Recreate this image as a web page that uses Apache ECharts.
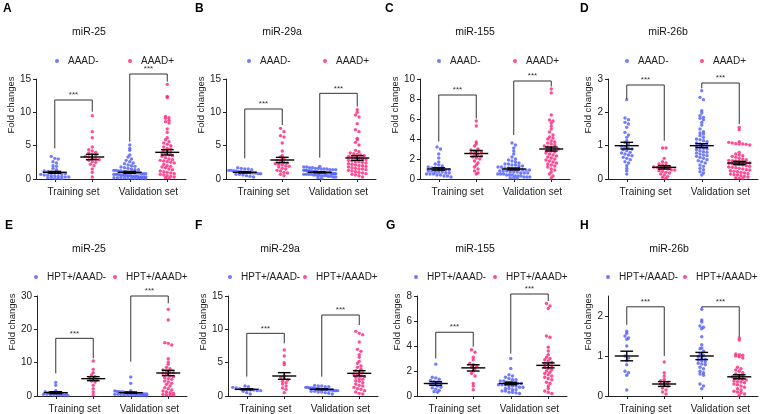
<!DOCTYPE html>
<html><head><meta charset="utf-8">
<script src="https://cdn.jsdelivr.net/npm/echarts@6/dist/echarts.min.js"></script>
<style>html,body{margin:0;padding:0;background:#fff}#c{width:760px;height:414px}</style>
</head><body><div id="c"></div>
<script>
// ---------------- DATA ----------------
const categories = ['Training set', 'Validation set'];
const panelLetters = ['A','B','C','D','E','F','G','H'];
const panelTitles = ['miR-25','miR-29a','miR-155','miR-26b','miR-25','miR-29a','miR-155','miR-26b'];
const groupNamesTop = ['AAAD-','AAAD+'];
const groupNamesBottom = ['HPT+/AAAD-','HPT+/AAAD+'];
const yMax = [15,15,10,3,30,15,8,2.5];
const yTicks = [[0,5,10,15],[0,5,10,15],[0,2,4,6,8,10],[0,1,2,3],[0,10,20,30],[0,5,10,15],[0,2,4,6,8],[0,1,2]];

// Panel A  miR-25 (AAAD- / AAAD+)
const aTrainNeg = [3.4,3.1,3.0,2.6,2.4,2.0,1.9,1.6,1.4,1.2,1.1,1.0,1.0,0.9,0.8,0.8,0.7,0.6,0.6,0.5,0.5,0.4,0.4,0.3,0.3,0.2,0.2,0.1,0.1,0.05];
const aTrainPos = [9.5,7.1,6.2,4.8,4.4,4.2,4.0,3.9,3.7,3.6,3.4,3.3,3.1,3.0,2.9,2.8,2.6,2.5,2.2,2.0,1.5,1.0,0.3];
const aValNeg = [5.1,4.6,4.3,3.6,3.3,3.0,2.8,2.6,2.4,2.3,2.1,2.0,1.9,1.8,1.7,1.6,1.5,1.4,1.4,1.3,1.3,1.2,1.2,1.1,1.1,1.0,1.0,1.0,0.9,0.9,0.9,0.8,0.8,0.8,0.7,0.7,0.7,0.6,0.6,0.6,0.5,0.5,0.5,0.4,0.4,0.4,0.3,0.3,0.3,0.3,0.2,0.2,0.2,0.2,0.1,0.1,0.1,0.1,0.05,0.05];
const aValPos = [14.2,12.4,12.2,9.4,9.2,9.1,8.8,8.6,8.4,7.5,7.0,6.2,5.9,5.6,5.4,5.2,5.0,4.8,4.6,4.5,4.3,4.2,4.0,3.9,3.8,3.6,3.5,3.4,3.2,3.0,2.9,2.8,2.7,2.6,2.5,2.4,2.2,2.0,1.9,1.8,1.7,1.5,1.4,1.2,1.1,1.0,0.9,0.8,0.7,0.6,0.5,0.4,0.3,0.2,0.1];
// Panel B  miR-29a
const bTrainNeg = [1.7,1.6,1.5,1.5,1.4,1.3,1.3,1.2,1.2,1.1,1.1,1.0,1.0,1.0,0.9,0.9,0.9,0.8,0.8,0.7,0.7,0.6,0.5,0.4,0.3];
const bTrainPos = [7.6,7.1,6.5,6.3,5.4,4.2,3.5,3.3,3.0,2.8,2.6,2.5,2.4,2.3,2.2,2.1,2.0,1.9,1.8,1.6,1.5,1.3,1.2,1.0,0.9,0.7,0.5];
const bValNeg = [1.9,1.8,1.8,1.7,1.7,1.6,1.6,1.5,1.5,1.5,1.4,1.4,1.4,1.3,1.3,1.3,1.2,1.2,1.2,1.2,1.1,1.1,1.1,1.1,1.0,1.0,1.0,1.0,1.0,0.9,0.9,0.9,0.9,0.9,0.8,0.8,0.8,0.8,0.7,0.7,0.7,0.7,0.6,0.6,0.6,0.5,0.5,0.5,0.4,0.4,0.3,0.3,0.2,0.1];
const bValPos = [10.4,10.0,9.6,9.3,8.3,7.4,7.1,6.1,5.9,5.5,5.1,4.3,4.1,3.9,3.8,3.7,3.6,3.5,3.4,3.3,3.2,3.1,3.0,2.9,2.8,2.7,2.6,2.6,2.5,2.4,2.3,2.2,2.1,2.0,2.0,1.9,1.8,1.7,1.6,1.5,1.5,1.4,1.3,1.2,1.1,1.0,0.9,0.8,0.7,0.6,0.5,0.3];
// Panel C  miR-155
const cTrainNeg = [3.2,3.0,2.5,2.1,1.7,1.5,1.4,1.3,1.2,1.1,1.1,1.0,1.0,0.9,0.9,0.8,0.8,0.7,0.7,0.7,0.6,0.6,0.5,0.5,0.5,0.4,0.4,0.3,0.3,0.2];
const cTrainPos = [5.8,5.3,3.7,3.5,3.3,3.0,2.9,2.8,2.8,2.7,2.6,2.5,2.4,2.3,2.2,2.1,2.0,1.8,1.6,1.4,1.2,1.0,0.8,0.6,0.5];
const cValNeg = [3.6,3.4,3.1,2.8,2.5,2.2,2.0,1.9,1.8,1.7,1.6,1.5,1.5,1.4,1.4,1.3,1.3,1.2,1.2,1.1,1.1,1.0,1.0,1.0,0.9,0.9,0.9,0.8,0.8,0.8,0.7,0.7,0.7,0.6,0.6,0.6,0.5,0.5,0.5,0.4,0.4,0.4,0.3,0.3,0.3,0.2,0.2,0.2,0.1,0.1,0.05];
const cValPos = [9.0,8.6,6.4,5.9,5.8,5.6,5.3,5.0,4.7,4.4,4.2,4.1,4.0,3.8,3.7,3.6,3.5,3.4,3.3,3.2,3.1,3.0,3.0,2.9,2.8,2.7,2.6,2.5,2.4,2.3,2.2,2.1,2.0,1.9,1.8,1.7,1.6,1.5,1.4,1.3,1.2,1.0,0.9,0.7,0.5,0.3,0.1];
// Panel D  miR-26b
const dTrainNeg = [2.38,1.83,1.78,1.70,1.65,1.55,1.40,1.32,1.25,1.15,1.10,1.05,0.98,0.95,0.92,0.90,0.88,0.85,0.80,0.78,0.75,0.72,0.70,0.65,0.62,0.58,0.52,0.48,0.40,0.32,0.25,0.15];
const dTrainPos = [0.93,0.93,0.62,0.52,0.48,0.45,0.42,0.40,0.38,0.36,0.35,0.33,0.32,0.30,0.28,0.27,0.25,0.23,0.20,0.18,0.15,0.12,0.08,0.05,0.02];
const dValNeg = [2.65,2.45,2.38,2.05,1.98,1.90,1.85,1.82,1.78,1.70,1.62,1.50,1.42,1.38,1.35,1.30,1.25,1.20,1.18,1.15,1.12,1.08,1.05,1.02,1.00,0.98,0.95,0.92,0.90,0.88,0.85,0.82,0.80,0.78,0.75,0.72,0.70,0.68,0.65,0.62,0.58,0.55,0.52,0.48,0.42,0.38,0.32,0.28,0.22,0.18,0.12];
const dValPos = [1.55,1.48,1.12,1.10,1.08,1.06,1.05,1.05,1.04,1.02,0.80,0.75,0.72,0.70,0.68,0.65,0.62,0.60,0.58,0.56,0.55,0.54,0.52,0.50,0.50,0.48,0.47,0.46,0.45,0.44,0.42,0.40,0.38,0.36,0.35,0.34,0.32,0.30,0.28,0.27,0.25,0.23,0.22,0.20,0.18,0.16,0.15,0.13,0.12,0.10,0.08,0.06,0.04,0.02,0.01];
// Panel E  miR-25 (HPT+)
const eTrainNeg = [4.1,3.2,1.6,1.3,1.1,1.0,0.9,0.8,0.7,0.6,0.5,0.5,0.4,0.3,0.3,0.2,0.1,0.1];
const eTrainPos = [10.5,8.0,7.0,6.3,5.8,5.3,5.0,4.8,4.5,4.2,3.2,2.2,1.2,0.3];
const eValNeg = [5.7,3.8,1.6,1.5,1.4,1.3,1.2,1.2,1.1,1.0,1.0,0.9,0.9,0.8,0.8,0.7,0.7,0.6,0.6,0.5,0.5,0.4,0.4,0.3,0.3,0.2,0.2,0.1,0.1,0.05];
const eValPos = [26.0,22.8,16.0,15.8,15.3,11.2,10.2,9.5,8.6,8.2,7.8,7.5,7.2,7.0,6.8,6.5,6.0,5.8,5.5,5.2,5.0,4.5,4.2,3.8,3.5,3.0,2.5,2.2,1.8,1.5,1.2,1.0,0.8,0.5,0.4,0.3,0.2];
// Panel F  miR-29a (HPT+)
const fTrainNeg = [1.5,1.4,1.3,1.2,1.1,1.0,1.0,0.9,0.9,0.8,0.8,0.7,0.5,0.3];
const fTrainPos = [6.9,6.0,5.0,4.7,3.0,2.8,2.6,2.4,2.2,2.0,1.8,1.5,1.2,1.0,0.5];
const fValNeg = [1.6,1.5,1.5,1.4,1.4,1.3,1.3,1.2,1.2,1.2,1.1,1.1,1.1,1.0,1.0,1.0,1.0,0.9,0.9,0.9,0.8,0.8,0.8,0.7,0.7,0.6,0.6,0.5,0.4,0.3];
const fValPos = [9.7,9.4,9.2,8.1,7.0,6.7,6.2,5.8,5.2,4.9,4.5,4.3,4.0,3.8,3.6,3.5,3.3,3.2,3.0,2.9,2.8,2.6,2.5,2.3,2.2,2.0,1.8,1.6,1.5,1.3,1.1,1.0,0.8,0.6,0.4,0.3];
// Panel G  miR-155 (HPT+)
const gTrainNeg = [2.55,1.5,1.45,1.35,1.25,1.15,1.1,1.0,0.95,0.9,0.8,0.7,0.65,0.55,0.45,0.35,0.3];
const gTrainPos = [3.7,3.5,3.1,2.9,2.6,2.5,2.4,2.3,2.2,2.0,1.8,1.6,1.0,0.8,0.5];
const gValNeg = [3.0,2.2,1.7,1.6,1.5,1.4,1.3,1.3,1.2,1.2,1.1,1.1,1.0,1.0,1.0,0.9,0.9,0.9,0.8,0.8,0.8,0.7,0.7,0.6,0.6,0.5,0.5,0.4,0.4,0.3,0.3,0.25,0.2];
const gValPos = [7.4,7.2,7.0,4.8,4.7,3.9,3.6,3.3,3.1,3.0,2.9,2.8,2.7,2.6,2.5,2.4,2.3,2.2,2.1,2.0,1.9,1.8,1.7,1.6,1.5,1.4,1.3,1.1,1.0,0.8,0.6,0.4,0.3,0.2];
// Panel H  miR-26b (HPT+)
const hTrainNeg = [1.62,1.57,1.50,1.45,1.42,1.25,1.00,0.95,0.88,0.78,0.62,0.58,0.52,0.15];
const hTrainPos = [0.85,0.58,0.50,0.42,0.38,0.35,0.32,0.30,0.28,0.25,0.20,0.15,0.10,0.05];
const hValNeg = [2.17,1.90,1.85,1.75,1.72,1.68,1.48,1.28,1.20,1.18,1.12,1.05,1.02,0.98,0.95,0.92,0.90,0.88,0.85,0.82,0.80,0.78,0.72,0.68,0.62,0.58,0.55,0.52,0.30,0.25,0.18];
const hValPos = [1.45,1.40,1.05,1.03,1.02,1.00,0.98,0.95,0.72,0.68,0.65,0.62,0.58,0.55,0.52,0.50,0.48,0.45,0.43,0.42,0.40,0.38,0.36,0.35,0.33,0.30,0.28,0.25,0.22,0.18,0.15,0.12,0.10,0.08,0.05,0.02];

// mean and SEM per group: [trainNeg, trainPos, valNeg, valPos]
const means = [[1.0,3.3,1.0,4.0],[1.0,2.85,1.0,3.15],[1.0,2.55,1.0,3.0],[1.0,0.35,1.0,0.48],
               [1.0,5.2,1.0,6.9],[1.0,3.0,1.0,3.4],[1.0,2.25,1.0,2.45],[1.0,0.3,1.0,0.48]];
const sems  = [[0.15,0.4,0.15,0.4],[0.1,0.4,0.08,0.35],[0.12,0.3,0.1,0.2],[0.1,0.05,0.06,0.05],
               [0.3,0.6,0.2,0.8],[0.08,0.5,0.06,0.4],[0.15,0.25,0.1,0.2],[0.12,0.06,0.09,0.05]];
// significance brackets: [trainTop, trainLeftEnd, trainRightEnd, valTop, valLeftEnd, valRightEnd]
const brackets = [[11.85,4.6,10.1,15.75,5.6,14.6],[10.5,3.1,8.1,12.85,3.2,10.85],[8.4,3.75,6.05,9.8,4.4,9.25],[2.82,2.4,1.15,2.88,2.72,1.65],
                  [17.3,6.8,11.3,30,10.3,27.8],[9.4,2.9,7.9,12.15,2.9,10.65],[5.1,3.0,3.95,8.16,3.4,7.6],[2.23,1.78,1.0,2.23,2.2,1.48]];
const sigLabel = '***';

const panelData = [
  [aTrainNeg,aTrainPos,aValNeg,aValPos],[bTrainNeg,bTrainPos,bValNeg,bValPos],
  [cTrainNeg,cTrainPos,cValNeg,cValPos],[dTrainNeg,dTrainPos,dValNeg,dValPos],
  [eTrainNeg,eTrainPos,eValNeg,eValPos],[fTrainNeg,fTrainPos,fValNeg,fValPos],
  [gTrainNeg,gTrainPos,gValNeg,gValPos],[hTrainNeg,hTrainPos,hValNeg,hValPos]
];

// ---------------- LAYOUT ----------------
const FONT = 'Liberation Sans, Arial, sans-serif';
const BLUE = '#4f5bff', PINK = '#ff1f78';
const L = {
  gridLeft: [36,226,420,608,37,228,417,608],
  gridTop: [79,79,79,79,296,296,296,296],
  gridW: 150, gridH: 100,
  letterX: [3,195,385,580,5,195,386,580],
  letterY: [3,3,3,3,220,220,220,220],
  titleX: [89,282,475,668,89,280,475,669],
  titleY: [32,32,32,32,249,249,249,249],
  legendX: [[57,130],[249,325],[439,515],[627,702],[36,115],[230,305],[416,495],[608,685]],
  legendY: [62,62,62,62,278,278,278,278],
  nameGap: [15,12,14,9,17,14,10,9]
};
const groupX = [0.5,1.5,2.5,3.5];

function swarm(vals, cx, ymax) {
  const pxY = L.gridH / ymax, pxX = L.gridW / 4;
  const d = 3.5, maxHalf = 16;
  const rows = new Map();
  vals.forEach(v => { const r = Math.round(v * pxY / d); if (!rows.has(r)) rows.set(r, []); rows.get(r).push(v); });
  const out = [];
  rows.forEach(list => {
    const n = list.length;
    const s = n > 1 ? Math.min(d, 2 * maxHalf / (n - 1)) : 0;
    list.forEach((v, k) => out.push([cx + (k - (n - 1) / 2) * s / pxX, v]));
  });
  return out;
}

const option = { animation: false, backgroundColor: '#fff', grid: [], xAxis: [], yAxis: [], series: [], legend: [], graphic: [] };

for (let p = 0; p < 8; p++) {
  const names = p < 4 ? groupNamesTop : groupNamesBottom;
  option.grid.push({ left: L.gridLeft[p], top: L.gridTop[p], width: L.gridW, height: L.gridH });
  const axisLine = { show: true, lineStyle: { color: '#222', width: 1 } };
  option.xAxis.push({ type: 'category', gridIndex: p, position: 'bottom', data: categories,
    axisLine, axisTick: { show: false },
    axisLabel: { interval: 0, fontSize: 10, color: '#222', fontFamily: FONT, margin: 8 } });
  option.xAxis.push({ type: 'value', gridIndex: p, position: 'bottom', min: 0, max: 4, show: false });
  option.xAxis.push({ type: 'category', gridIndex: p, position: 'bottom', data: ['g1','g2','g3','g4'],
    axisLine: { show: false }, axisLabel: { show: false },
    axisTick: { show: true, alignWithLabel: true, interval: 0, length: 3, lineStyle: { color: '#222' } } });
  option.yAxis.push({ type: 'value', gridIndex: p, min: 0, max: yMax[p],
    name: 'Fold changes', nameLocation: 'middle', nameRotate: 90, nameGap: L.nameGap[p],
    nameTextStyle: { fontSize: 9.5, color: '#222', fontFamily: FONT, padding: [0, 0, 0, 48] },
    axisLine, splitLine: { show: false },
    axisTick: { show: true, length: 3, customValues: yTicks[p], lineStyle: { color: '#222' } },
    axisLabel: { fontSize: 10, color: '#222', fontFamily: FONT, margin: 5, customValues: yTicks[p] } });

  const g = panelData[p];
  const xi = p * 3 + 1;
  option.series.push({ type: 'scatter', name: names[0], xAxisIndex: xi, yAxisIndex: p, symbol: 'circle', symbolSize: 3.4,
    itemStyle: { color: BLUE }, data: swarm(g[0], groupX[0], yMax[p]).concat(swarm(g[2], groupX[2], yMax[p])), z: 2 });
  option.series.push({ type: 'scatter', name: names[1], xAxisIndex: xi, yAxisIndex: p, symbol: 'circle', symbolSize: 3.4,
    itemStyle: { color: PINK }, data: swarm(g[1], groupX[1], yMax[p]).concat(swarm(g[3], groupX[3], yMax[p])), z: 2 });

  // mean +/- SEM
  option.series.push({ type: 'custom', xAxisIndex: xi, yAxisIndex: p, z: 5, clip: false,
    data: groupX.map((x, k) => [x, means[p][k], sems[p][k]]),
    renderItem: (params, api) => {
      const x = api.value(0), m = api.value(1), s = api.value(2);
      const st = { stroke: '#000', lineWidth: 1.4 };
      const ln = (a, b) => ({ type: 'line', shape: { x1: a[0], y1: a[1], x2: b[0], y2: b[1] }, style: st });
      const c = (u, v) => api.coord([u, v]);
      return { type: 'group', children: [
        ln(c(x - 0.32, m), c(x + 0.32, m)),
        ln(c(x, m - s), c(x, m + s)),
        ln(c(x - 0.17, m + s), c(x + 0.17, m + s)),
        ln(c(x - 0.17, m - s), c(x + 0.17, m - s))
      ] };
    } });

  // significance brackets
  const b = brackets[p];
  option.series.push({ type: 'custom', xAxisIndex: xi, yAxisIndex: p, z: 4, clip: false,
    data: [[groupX[0], groupX[1], b[0], b[1], b[2]], [groupX[2], groupX[3], b[3], b[4], b[5]]],
    renderItem: (params, api) => {
      const x1 = api.value(0), x2 = api.value(1), top = api.value(2), lo1 = api.value(3), lo2 = api.value(4);
      const pts = [api.coord([x1, lo1]), api.coord([x1, top]), api.coord([x2, top]), api.coord([x2, lo2])];
      const mid = api.coord([(x1 + x2) / 2, top]);
      return { type: 'group', children: [
        { type: 'polyline', shape: { points: pts }, style: { stroke: '#333', lineWidth: 1, fill: null } },
        { type: 'text', style: { text: sigLabel, x: mid[0], y: mid[1] - 1, align: 'center', verticalAlign: 'bottom',
          fontSize: 8, fontFamily: FONT, fill: '#333' } }
      ] };
    } });

  // legends
  for (let k = 0; k < 2; k++) {
    option.legend.push({ data: [names[k]], left: L.legendX[p][k] - 2, top: L.legendY[p] - 6, padding: 0,
      itemWidth: 12, itemHeight: 4, icon: 'circle', selectedMode: false,
      textStyle: { fontSize: 10, color: '#222', fontFamily: FONT } });
  }

  // panel letter and title
  option.graphic.push({ type: 'text', left: L.letterX[p], top: L.letterY[p],
    style: { text: panelLetters[p], fontSize: 12, fontWeight: 'bold', fontFamily: FONT, fill: '#000' } });
  option.graphic.push({ type: 'text', x: L.titleX[p], y: L.titleY[p],
    style: { text: panelTitles[p], fontSize: 10.5, fontFamily: FONT, fill: '#111', align: 'center', verticalAlign: 'middle' } });
}

const chart = echarts.init(document.getElementById('c'), null, { renderer: 'canvas' });
chart.setOption(option);
</script>
</body></html>
